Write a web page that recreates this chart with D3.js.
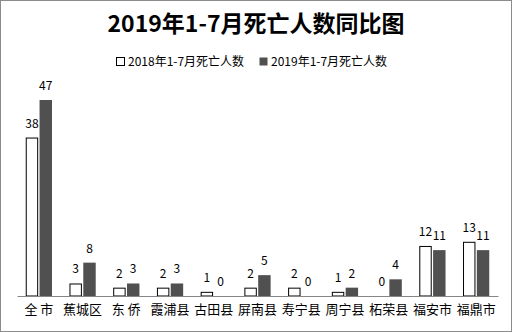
<!DOCTYPE html>
<html><head><meta charset="utf-8">
<script src="https://cdn.jsdelivr.net/npm/d3@7"></script>
<style>body{margin:0;background:#fff}svg{display:block}</style>
</head><body><svg id="c" width="512" height="332"></svg>
<script>
const categories = ["全 市","蕉城区","东 侨","霞浦县","古田县","屏南县","寿宁县","周宁县","柘荣县","福安市","福鼎市"];
const values2018 = [38,3,2,2,1,2,2,1,0,12,13];
const values2019 = [47,8,3,3,0,5,0,2,4,11,11];
const seriesNames = ["2018年1-7月死亡人数","2019年1-7月死亡人数"];
const title = "2019年1-7月死亡人数同比图";

const svg = d3.select("#c");
const W = 512, H = 332;
const font = "'Noto Sans CJK SC','Noto Sans',sans-serif";
svg.append("rect").attr("x",0.5).attr("y",0.5).attr("width",W-1).attr("height",H-1)
  .attr("fill","#fff").attr("stroke","#8c8c8c");

svg.append("text").attr("x",256).attr("y",32).attr("text-anchor","middle")
  .attr("font-family",font).attr("font-weight","bold").attr("font-size",23)
  .attr("fill","#000").text(title);

const x0 = d3.scaleBand().domain(categories).range([17,498]).paddingInner(0.4).paddingOuter(0.2);
const x1 = d3.scaleBand().domain([0,1]).range([0,x0.bandwidth()]).paddingInner(0.1);
const y = d3.scaleLinear().domain([0,50]).range([296,87.5]);

const data = categories.map((c,i)=>({c, v:[values2018[i], values2019[i]]}));
const g = svg.append("g");
const grp = g.selectAll("g.cat").data(data).join("g")
  .attr("transform",d=>`translate(${x0(d.c)},0)`);
grp.selectAll("rect").data(d=>d.v.map((v,k)=>({v,k}))).join("rect")
  .attr("x",d=>x1(d.k)+ (d.k===0?0.5:0)).attr("width",d=>x1.bandwidth()-(d.k===0?1:0))
  .attr("y",d=>y(d.v)+(d.k===0?0.5:0)).attr("height",d=>Math.max(0,y(0)-y(d.v)-(d.k===0?0.5:0)))
  .attr("fill",d=>d.k===0?"#fff":"#505050")
  .attr("stroke",d=>d.k===0?"#000":"none").attr("stroke-width",1)
  .attr("display",d=>d.v===0?"none":null);
grp.selectAll("text").data(d=>d.v.map((v,k)=>({v,k}))).join("text")
  .attr("x",d=>x1(d.k)+x1.bandwidth()/2).attr("y",d=>y(d.v)-10)
  .attr("text-anchor","middle").attr("font-family",font).attr("font-size",12)
  .attr("fill","#000").text(d=>d.v);

const ax = svg.append("g").attr("transform","translate(0,296)")
  .call(d3.axisBottom(x0).tickSize(0).tickPadding(9));
ax.select(".domain").attr("stroke","#868686");
ax.selectAll("text").attr("font-family",font).attr("font-size",13).attr("fill","#000");

const lg = svg.append("g");
const legX = [116, 259];
seriesNames.forEach((n,k)=>{
  lg.append("rect").attr("x",legX[k]+0.5).attr("y",57.5).attr("width",8).attr("height",8)
    .attr("fill",k===0?"#fff":"#505050").attr("stroke",k===0?"#000":"none");
  lg.append("text").attr("x",legX[k]+12).attr("y",66).attr("font-family",font)
    .attr("font-size",12).attr("fill","#000").text(n);
});
</script></body></html>
